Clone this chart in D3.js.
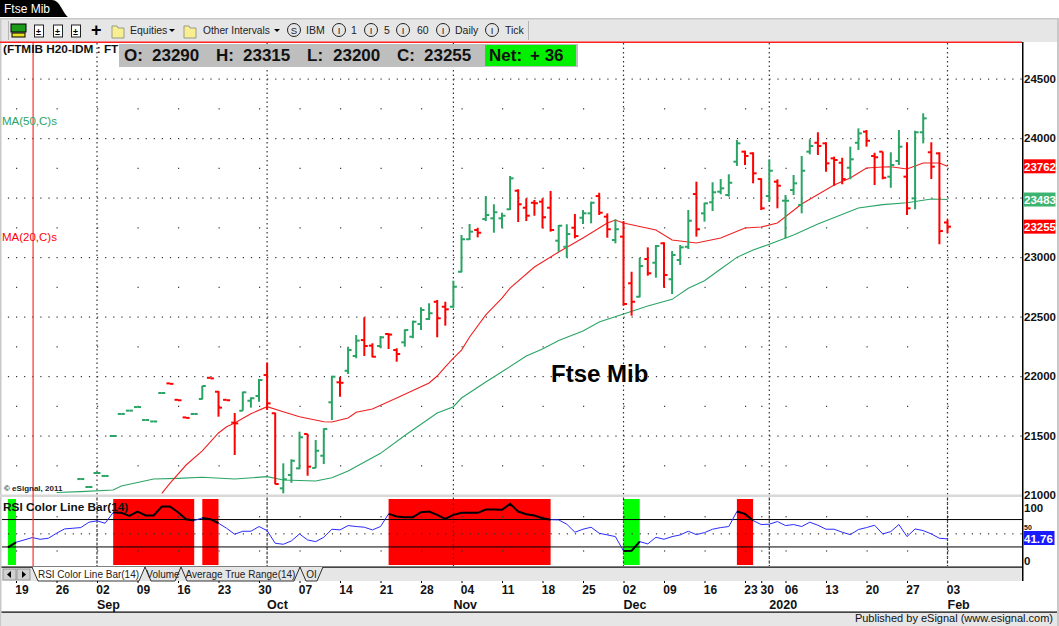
<!DOCTYPE html>
<html>
<head>
<meta charset="utf-8">
<title>Ftse Mib</title>
<script src="https://cdn.jsdelivr.net/npm/d3@7"></script>
<style>
  html, body { margin: 0; padding: 0; background: #fff; }
  svg { display: block; font-family: "Liberation Sans", Arial, sans-serif; }
</style>
</head>
<body>
<svg id="chart" width="1059" height="626"></svg>
<script>
// daily bars, index 0 is 19 Aug 2019, one step per trading day
const barStart = 8;
const barOpen = [21134,21067,21185,21160,21496,21681,21709,21739,21630,21618,21857,21938,21800,21652,21681,
  21807,21985,21868,21800,21608,21708,21792,21832,22008,21687,21056,21168,21224,21513,21227,21330,21779,21947,
  22044,22168,22302,22255,22252,22353,22218,22283,22330,22437,22479,22624,22582,22582,22876,23149,23227,23319,
  23325,23325,23401,23557,23414,23456,23465,23414,23137,23086,23246,23330,23367,23512,23339,23143,23171,22779,
  22666,22983,22952,23115,22813,22975,23086,23529,23367,23460,23549,23521,23801,23885,23871,23655,23512,23633,
  23473,23563,23437,23885,23960,23955,23829,23792,23750,23960,24053,23849,23885,23675,23807,23675,23493,24048,
  23880,23871,23290];
const barHigh = [21134,21067,21185,21160,21496,21681,21709,21739,21630,21618,21857,21938,21800,21652,21681,
  21918,21985,21874,21800,21689,21868,21821,21975,22112,21692,21266,21300,21532,21513,21462,21560,22002,21994,
  22246,22344,22493,22275,22336,22359,22233,22392,22465,22577,22611,22639,22624,22801,23185,23277,23246,23512,
  23443,23372,23681,23569,23493,23479,23493,23555,23269,23275,23361,23395,23465,23540,23367,23317,23302,22876,
  22994,23081,23101,23123,23050,23101,23395,23633,23456,23628,23655,23695,23983,23893,23880,23661,23821,23653,
  23521,23689,23849,23989,24048,23964,23843,23834,23927,24081,24067,23876,23885,23880,24067,23964,24061,24207,
  23964,23880,23315];
const barLow = [21134,21067,21185,21160,21496,21681,21709,21739,21630,21618,21857,21934,21796,21648,21681,
  21803,21980,21658,21796,21336,21708,21734,21784,21714,21090,21014,21103,21216,21162,21227,21260,21630,21826,
  22017,22149,22168,22157,22233,22227,22120,22246,22317,22386,22470,22325,22423,22574,22871,23143,23165,23302,
  23204,23241,23395,23294,23302,23347,23241,23213,23044,22994,23157,23277,23283,23353,23162,23115,22591,22507,
  22661,22843,22826,22742,22689,22933,23067,23171,23297,23386,23527,23507,23765,23773,23619,23395,23465,23409,
  23157,23521,23367,23863,23857,23717,23599,23611,23653,23899,23927,23605,23653,23582,23773,23353,23401,23955,
  23655,23107,23200];
const barClose = [21134,21067,21185,21160,21496,21681,21709,21739,21630,21618,21857,21934,21796,21648,21681,
  21916,21980,21734,21796,21602,21863,21813,21966,21770,21092,21132,21288,21485,21238,21372,21555,21994,21943,
  22218,22297,22252,22162,22325,22348,22185,22386,22456,22555,22527,22485,22560,22750,23149,23213,23204,23353,
  23376,23347,23661,23443,23347,23452,23334,23227,23263,23193,23176,23367,23456,23372,23233,23233,22605,22624,
  22924,22863,23092,22849,23017,23081,23305,23233,23451,23544,23577,23624,23955,23849,23703,23409,23725,23599,
  23473,23619,23725,23933,23933,23787,23815,23655,23821,24039,23977,23838,23666,23773,23927,23409,24048,24165,
  23759,23218,23255];

// moving averages, vertices
const ma20Idx = [18,19,21,23,25,26,27,29,31,33,35,38,39,41,42,44,47,51,52,53,54,55,56,58,60,61,64,67,70,73,74,75,79,81,84,87,90,92,94,97,101,103,105,107,108,110,112,114,115];
const ma20Val = [21014,21098,21252,21370,21521,21574,21605,21683,21742,21700,21658,21616,21614,21647,21695,21723,21815,21941,22000,22076,22151,22218,22328,22513,22655,22739,22916,23042,23160,23286,23311,23286,23227,23143,23118,23160,23244,23252,23286,23445,23605,23664,23748,23756,23759,23739,23790,23790,23762];
const ma50Idx = [5,8,12,13,17,20,23,27,31,33,37,39,41,45,48,52,54,55,58,60,63,65,67,70,72,75,78,81,83,85,87,89,91,93,96,99,104,107,110,113,115];
const ma50Val = [21021,21028,21042,21076,21134,21140,21149,21134,21154,21126,21118,21145,21202,21350,21500,21689,21742,21815,21950,22036,22168,22227,22298,22378,22454,22521,22588,22644,22737,22801,22899,22997,23059,23107,23185,23277,23412,23440,23456,23487,23483];

// RSI(14), first value is one trading day before index 0
const rsiStart = -1;
const rsiValues = [29.5,36.8,40.2,43.7,41.2,42.7,50,56.3,57.3,58.3,66.1,68.1,64.6,80.3,79.8,75.4,81.7,75.9,75.9,89,89,80.7,70.5,68.5,
  72.4,70.5,64.6,57.3,48.5,52.9,52.9,59.8,53.9,35.4,33.9,38.8,49,40.2,37.8,44.1,55.9,54.9,61.2,59.8,58.8,54.9,59.8,78.3,74.4,73.4,73.4,
  80.7,81.7,76.8,71,76.8,79.8,79.8,79.8,84.6,84.6,84.2,92.9,81.7,77.8,75.9,72,69.8,69.5,63.2,51.5,55.9,58.8,50,47.6,45.1,24.1,24.6,37.8,
  34.4,44.1,41.2,45.1,47.6,52.9,48,51,55.9,58.3,59.8,81.7,78.3,68.5,62.7,63.2,67.1,61.2,62.7,59.8,66.1,61.7,55.9,55.9,51.5,48,55.4,58.3,
  61.7,49,52.4,62.7,45.1,56.3,53.9,49,42.7,41.76];

const weekIdx = [0,5,10,15,20,25,30,35,40,45,50,55,60,65,70,75,80,85,90,92,95,100,105,110,115];
const weekLabels = ["19","26","02","09","16","23","30","07","14","21","28","04","11","18","25","02","09","16","23","30","06","13","20","27","03"];
const monthIdx = [10,31,54,75,93,115];
const monthLabels = ["Sep","Oct","Nov","Dec","2020","Feb"];
const priceTicks = [21000,21500,22000,22500,23000,23500,24000,24500];
// 23500 sits behind the green MA box in the original, so it gets no label
const priceLabels = [21000,21500,22000,22500,23000,24000,24500];
const priceMinor = [21250,21750,22250,22750,23250,23750,24250];
const rsiTicks = [100,0];
const rsiLevels = [70,30];
const quoteLabels = ["O:","23290","H:","23315","L:","23200","C:","23255"];
const tabLabels = ["RSI Color Line Bar(14)","Volume","Average True Range(14)","OI"];

const GREEN = "#2aa465", RED = "#ff0000", RIGHT = 1022;
const svg = d3.select("#chart");

const x = d3.scaleLinear().domain([0, 115]).range([16, 947.5]);
const y = d3.scaleLinear().domain([21000, 24500]).range([495, 78.5]);
const yRsi = d3.scaleLinear().domain([0, 100]).range([567.5, 499]);

function rect(parent, rx, ry, w, h, fill) {
  return parent.append("rect").attr("x", rx).attr("y", ry).attr("width", w).attr("height", h).attr("fill", fill);
}
function label(parent, tx, ty, str, size, fill, weight) {
  return parent.append("text").attr("x", tx).attr("y", ty).attr("font-size", size)
    .attr("fill", fill || "#000").attr("font-weight", weight || "normal").text(str);
}

// ---- window chrome ----
const chrome = svg.append("g");
rect(chrome, 0, 18, 1059, 24, "#e6e6e6");
rect(chrome, 0, 18, 1059, 1.5, "#c8c8c8");
rect(chrome, 0, 18, 1.5, 608, "#c8c8c8");
rect(chrome, 1057, 18, 2, 608, "#c8c8c8");
chrome.append("path").attr("d", "M0,0H52C60,0 62,12 68,17H0Z").attr("fill", "#000");
label(chrome, 4, 13, "Ftse Mib", 12, "#fff");

// toolbar
rect(chrome, 11, 24, 15, 8, "#1c9a1c").attr("stroke", "#000").attr("stroke-width", 1);
rect(chrome, 12, 33, 13, 4, "#e8e020").attr("stroke", "#000").attr("stroke-width", 1);
[39, 58, 76].forEach(px => {
  rect(chrome, px - 4.5, 25, 9, 12, "#fff").attr("stroke", "#222").attr("stroke-width", 1);
  label(chrome, px - 3, 35, "±", 9, "#000", "bold");
});
label(chrome, 91, 36, "+", 18, "#000", "bold");
[118, 190].forEach(px => {
  chrome.append("path").attr("d", `M${px - 6},26h5l1,2h6v10h-12z`).attr("fill", "#f8f090").attr("stroke", "#998").attr("stroke-width", 1);
});
label(chrome, 130, 34, "Equities", 10.5, "#222");
label(chrome, 203, 34, "Other Intervals", 10.2, "#222");
[172, 277].forEach(px => {
  chrome.append("path").attr("d", `M${px - 3},29h6l-3,3z`).attr("fill", "#000");
});
const toolButtons = [[294, "S", 306, "IBM"], [339, "I", 351, "1"], [371, "I", 384, "5"], [403, "I", 417, "60"], [443, "I", 455, "Daily"], [492, "I", 505, "Tick"]];
toolButtons.forEach(b => {
  chrome.append("circle").attr("cx", b[0]).attr("cy", 30).attr("r", 6.5).attr("fill", "none").attr("stroke", "#222");
  label(chrome, b[0], 33.5, b[1], 9.5, "#222").attr("text-anchor", "middle");
  label(chrome, b[2], 34, b[3], 10.5, "#222");
});
rect(chrome, 528, 21, 1, 19, "#b4b4b4");
rect(chrome, 8, 21, 1, 19, "#b4b4b4");

// ---- price grid ----
const grid = svg.append("g");
const everyBar = d3.range(-1, 125);
priceTicks.forEach(p => {
  grid.selectAll(null).data(everyBar).join("rect")
    .attr("x", d => x(d)).attr("y", y(p)).attr("width", 1.2).attr("height", 1.2).attr("fill", "#333");
});
priceMinor.forEach(p => {
  grid.selectAll(null).data(weekIdx).join("rect")
    .attr("x", d => x(d)).attr("y", y(p)).attr("width", 1.2).attr("height", 1.2).attr("fill", "#333");
});
grid.selectAll(null).data(monthIdx).join("line")
  .attr("x1", d => x(d)).attr("x2", d => x(d)).attr("y1", 43).attr("y2", 566)
  .attr("stroke", "#333").attr("stroke-width", 1.2).attr("stroke-dasharray", "1.5 3");

// ---- moving averages ----
const maLine = d3.line().x(d => x(d[0])).y(d => y(d[1]));
svg.append("path").datum(ma50Idx.map((d, k) => [d, ma50Val[k]])).attr("d", maLine)
  .attr("fill", "none").attr("stroke", GREEN).attr("stroke-width", 1.1);
svg.append("path").datum(ma20Idx.map((d, k) => [d, ma20Val[k]])).attr("d", maLine)
  .attr("fill", "none").attr("stroke", "#f02020").attr("stroke-width", 1.1);

// ---- OHLC bars ----
const bars = barOpen.map((o, k) => ({ i: barStart + k, o, h: barHigh[k], l: barLow[k], c: barClose[k] }));
const barGroup = svg.append("g").selectAll("g").data(bars).join("g")
  .attr("stroke", d => d.c < d.o ? RED : GREEN)
  .attr("stroke-width", 2);
barGroup.append("line")
  .attr("x1", d => x(d.i)).attr("x2", d => x(d.i))
  .attr("y1", d => y(d.h)).attr("y2", d => y(d.l));
barGroup.append("line")
  .attr("x1", d => x(d.i) - 3.5).attr("x2", d => x(d.i))
  .attr("y1", d => y(d.o)).attr("y2", d => y(d.o));
barGroup.append("line")
  .attr("x1", d => x(d.i)).attr("x2", d => x(d.i) + 3.5)
  .attr("y1", d => y(d.c)).attr("y2", d => y(d.c));

// ---- RSI pane ----
const rsi = rsiValues.map((v, k) => ({ i: rsiStart + k, v }));
// a band runs from the first bar past a level to the first bar back inside it
const bands = [];
let open = null;
rsi.forEach(d => {
  const zone = d.v > 70 ? "hi" : d.v < 30 ? "lo" : null;
  if (open && open.zone !== zone) { open.end = d.i; bands.push(open); open = null; }
  if (!open && zone) open = { zone, start: d.i };
});
const rsiGroup = svg.append("g");
rsiGroup.selectAll("rect").data(bands).join("rect")
  .attr("x", d => x(d.start)).attr("width", d => x(d.end) - x(d.start))
  .attr("y", 499).attr("height", 66)
  .attr("fill", d => d.zone === "hi" ? "#ff0000" : "#00ff00");

rsiGroup.selectAll(null).data(everyBar).join("rect")
  .attr("x", d => x(d)).attr("y", yRsi(50)).attr("width", 1.2).attr("height", 1.2).attr("fill", "#333");
[75, 25].forEach(v => {
  rsiGroup.selectAll(null).data(weekIdx).join("rect")
    .attr("x", d => x(d)).attr("y", yRsi(v)).attr("width", 1.2).attr("height", 1.2).attr("fill", "#333");
});
rsiGroup.selectAll("line").data(monthIdx).join("line")
  .attr("x1", d => x(d)).attr("x2", d => x(d)).attr("y1", 499).attr("y2", 566)
  .attr("stroke", "#333").attr("stroke-width", 1.2).attr("stroke-dasharray", "1.5 3");
rsiLevels.forEach(v => {
  rsiGroup.append("line").attr("x1", 2).attr("x2", RIGHT).attr("y1", yRsi(v)).attr("y2", yRsi(v))
    .attr("stroke", "#000").attr("stroke-width", 1);
});
const rsiLine = d3.line().x(d => x(d.i)).y(d => yRsi(d.v));
rsiGroup.append("path").datum(rsi).attr("d", rsiLine)
  .attr("fill", "none").attr("stroke", "#2a2aff").attr("stroke-width", 1);
bands.forEach(b => {
  rsiGroup.append("path").datum(rsi.filter(d => d.i >= b.start && d.i <= b.end)).attr("d", rsiLine)
    .attr("fill", "none").attr("stroke", "#000").attr("stroke-width", 2);
});

// cursor line and frame
rect(svg, 0, 494.5, RIGHT, 2.5, "#d8d8d8");
rect(svg, 32.5, 42, 1.2, 524, "#ff3030");
rect(svg, 0, 41.5, RIGHT, 1.5, "#ff2020");
rect(svg, RIGHT, 42, 1.5, 539, "#000");

// ---- labels on the chart ----
label(svg, 3, 53, "(FTMIB H20-IDM : FT", 11.8, "#111", "bold");
rect(svg, 119, 44, 459, 23, "#bebebe");
rect(svg, 485, 45, 91, 21, "#00f000");
const quoteX = [124, 152, 216, 243, 307, 333, 397, 424];
quoteLabels.forEach((t, k) => label(svg, quoteX[k], 61, t, 17, "#111", "bold"));
label(svg, 489, 61, "Net:", 17, "#111", "bold");
label(svg, 530, 61, "+ 36", 17, "#111", "bold");
label(svg, 2, 125, "MA(50,C)s", 11.5, GREEN);
label(svg, 2, 241, "MA(20,C)s", 11.5, RED);
label(svg, 4, 491, "© eSignal, 2011", 8, "#222", "bold");
label(svg, 551, 382, "Ftse Mib", 24, "#000", "bold");
label(svg, 3, 511, "RSI Color Line Bar(14)", 11.8, "#111", "bold");

// ---- right axis ----
const yAxis = svg.append("g").attr("transform", `translate(${RIGHT + 1},0)`)
  .call(d3.axisRight(y).tickValues(priceLabels).tickSize(0).tickPadding(1).tickFormat(d3.format("d")));
yAxis.select(".domain").remove();
yAxis.selectAll("text").attr("font-family", "Liberation Sans").attr("font-size", 11.5).attr("font-weight", "bold").attr("fill", "#111");

[[23762, RED], [23483, "#3cb371"], [23255, RED]].forEach(d => {
  rect(svg, RIGHT + 1.5, y(d[0]) - 7, 32, 14, d[1]);
  label(svg, RIGHT + 2, y(d[0]) + 4.5, d[0], 11.5, "#fff", "bold");
});

rsiTicks.forEach(v => {
  const ty = v === 100 ? 512 : 565;
  label(svg, RIGHT + 2, ty, v, 11.5, "#111", "bold");
});
// the 50 label only shows as a sliver above the value box
label(svg, RIGHT + 2, 530, "50", 7, "#111", "bold");
rect(svg, RIGHT + 1.5, 531, 31, 14, "#1a1aff");
label(svg, RIGHT + 2, 542.5, "41.76", 11.5, "#fff", "bold");

// ---- tab strip ----
const tabs = svg.append("g");
rect(tabs, 1.5, 567, RIGHT - 1.5, 14, "#e6e6e6");
rect(tabs, 1.5, 566.5, RIGHT - 1.5, 1.2, "#000");
[3, 17].forEach((bx, k) => {
  rect(tabs, bx, 569, 13, 11, "#d0d0d0").attr("stroke", "#888").attr("stroke-width", 0.8);
  tabs.append("path").attr("d", k === 0 ? `M${bx + 4},574.5l4,-3.5v7z` : `M${bx + 9},574.5l-4,-3.5v7z`).attr("fill", "#000");
});
const tabEdges = [[32, 145], [145, 181], [181, 300], [300, 323]];
tabEdges.forEach((e, k) => {
  tabs.append("path")
    .attr("d", `M${e[0]},567L${e[0] + 6},581H${e[1] - 6}L${e[1]},567`)
    .attr("fill", k === 0 ? "#fff" : "#e6e6e6")
    .attr("stroke", "#000").attr("stroke-width", 0.8);
  label(tabs, (e[0] + e[1]) / 2, 578, tabLabels[k], 10, "#222").attr("text-anchor", "middle");
});

// ---- date axis ----
const xAxis = svg.append("g").attr("transform", "translate(0,581)")
  .call(d3.axisBottom(x).tickValues(weekIdx).tickSize(2).tickPadding(2).tickFormat((d, k) => weekLabels[k]));
xAxis.select(".domain").remove();
xAxis.selectAll("line").attr("stroke", "#000");
xAxis.selectAll("text")
  .attr("font-family", "Liberation Sans").attr("font-size", 12).attr("font-weight", "bold")
  .attr("fill", "#111").attr("dx", 5.5);

monthIdx.forEach((d, k) => {
  label(svg, x(d), 609, monthLabels[k], 12.5, "#111", "bold");
});

// status bar
rect(svg, 1.5, 612, 1055.5, 14, "#e6e6e6");
rect(svg, 1.5, 611.5, 1055.5, 1.2, "#000");
label(svg, 1053, 622, "Published by eSignal (www.esignal.com)", 11, "#111").attr("text-anchor", "end");
</script>
</body>
</html>
